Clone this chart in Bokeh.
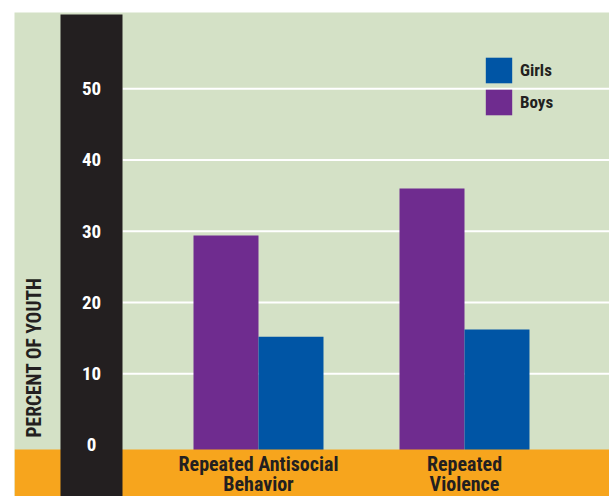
import math
from bokeh.plotting import figure
from bokeh.models import Legend, LegendItem, ColumnDataSource, Range1d
from bokeh.transform import dodge
from bokeh.embed import file_html
from bokeh.resources import INLINE
from bokeh.core.properties import value

# ---- data ----
categories = ["Repeated Antisocial Behavior", "Repeated Violence"]
category_labels = ["Repeated Antisocial\nBehavior", "Repeated\nViolence"]
boys = [29.4, 36.0]
girls = [15.2, 16.2]
y_ticks = [0, 10, 20, 30, 40, 50]
y_title = "PERCENT OF YOUTH"
series_names = ["Girls", "Boys"]

# ---- style ----
GREEN = "#d4e1c6"
PURPLE = "#6f2c8f"
BLUE = "#0055a5"
ORANGE = "#f7a51d"
DARK = "#231f20"
FONT = "Roboto Condensed"

X_START, X_END = -1.18447, 1.70388
Y_START, Y_END = -7.228, 60.70
BAR_W = 0.3155
BAND_X0, BAND_X1, BAND_TOP = -0.9612, -0.6602, 60.42
ORANGE_TOP = -0.632

src = ColumnDataSource(dict(x=list(range(len(categories))), boys=boys, girls=girls,
                            label=category_labels))

p = figure(width=609, height=496, output_backend="svg", toolbar_location=None,
           x_range=Range1d(X_START, X_END), y_range=Range1d(Y_START, Y_END),
           x_axis_location=None, y_axis_location=None,
           min_border_left=14, min_border_top=12, min_border_right=0, min_border_bottom=0)
p.grid.visible = False
p.outline_line_color = None
p.background_fill_color = GREEN
p.border_fill_color = "white"

# gridlines
grid_y = [t for t in y_ticks if t > 0]
p.segment(x0=[BAND_X1] * len(grid_y), x1=[X_END] * len(grid_y), y0=grid_y, y1=grid_y,
          line_color="white", line_width=2)

# bars
boys_r = p.vbar(x=dodge("x", -BAR_W / 2), top="boys", bottom=Y_START, width=BAR_W,
                source=src, fill_color=PURPLE, line_color=None)
girls_r = p.vbar(x=dodge("x", BAR_W / 2), top="girls", bottom=Y_START, width=BAR_W,
                 source=src, fill_color=BLUE, line_color=None)

# orange base band and black axis band
p.quad(left=[X_START], right=[X_END], bottom=[Y_START], top=[ORANGE_TOP],
       fill_color=ORANGE, line_color=None)
p.quad(left=[BAND_X0], right=[BAND_X1], bottom=[Y_START], top=[BAND_TOP],
       fill_color=DARK, line_color=None)

# tick labels
p.text(x=[(BAND_X0 + BAND_X1) / 2] * len(y_ticks), y=y_ticks, text=[str(t) for t in y_ticks],
       text_font=value(FONT), text_font_style="bold", text_font_size="19px",
       text_color="white", text_align="center", text_baseline="middle")

# axis title
p.text(x=[-1.0874], y=[1.05], text=[y_title], angle=math.pi / 2,
       text_font=value(FONT), text_font_style="bold", text_font_size="19.5px",
       text_color=DARK, text_align="left", text_baseline="middle")

# category labels
p.text(x="x", y=-0.95, text="label", source=src,
       text_font=value(FONT), text_font_style="bold", text_font_size="20px",
       text_color=DARK, text_align="center", text_baseline="top", text_line_height=0.85)

legend = Legend(items=[LegendItem(label=series_names[0], renderers=[girls_r]),
                       LegendItem(label=series_names[1], renderers=[boys_r])],
                location=(468, 378), orientation="vertical",
                glyph_width=33, glyph_height=32, spacing=0, padding=0, margin=0,
                label_standoff=5, background_fill_alpha=0, border_line_alpha=0,
                label_text_font=FONT, label_text_font_style="bold",
                label_text_font_size="17px", label_text_color=DARK)
p.add_layout(legend)

open("out.html", "w").write(file_html(p, INLINE))
